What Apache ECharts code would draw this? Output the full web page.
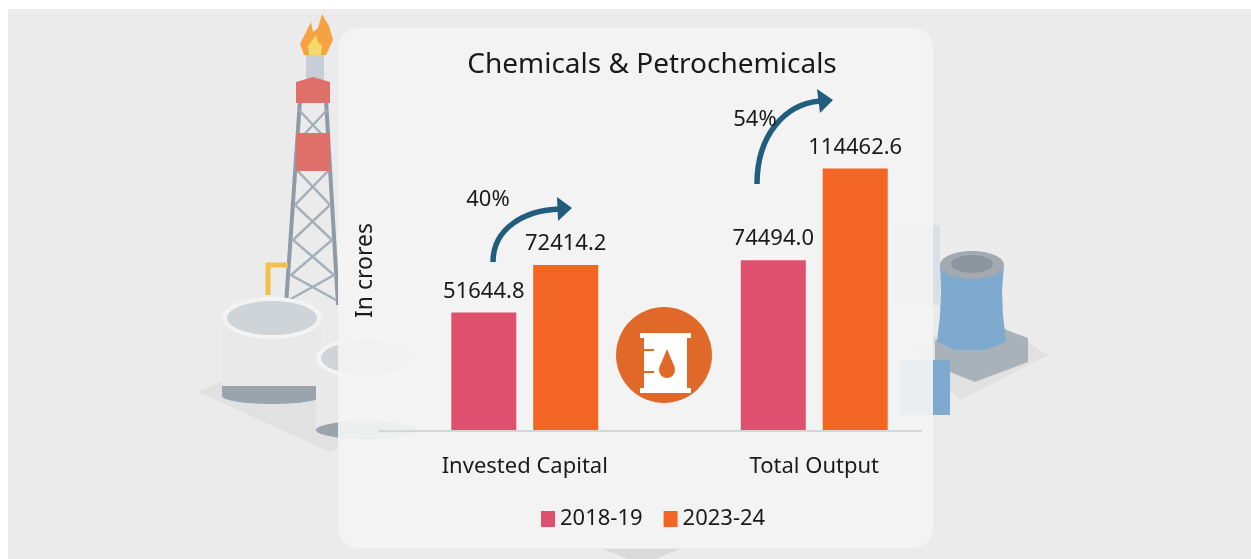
<!DOCTYPE html>
<html><head><meta charset="utf-8">
<script src="https://cdn.jsdelivr.net/npm/echarts@6/dist/echarts.min.js"></script>
<style>html,body{margin:0;padding:0;background:#fff}#c{width:1251px;height:559px}</style>
</head><body><div id="c"></div>
<script>
var categories = ['Invested Capital', 'Total Output'];
var series2018 = [51644.8, 74494.0];
var series2023 = [72414.2, 114462.6];
var seriesNames = ['2018-19', '2023-24'];
var growthLabels = ['40%', '54%'];

var FONT = 'Noto Sans';
var chart = echarts.init(document.getElementById('c'));

var B = -3;
var bg = [
  {type:'rect', z:B, shape:{x:8,y:9,width:1243,height:550}, style:{fill:'#ebebeb'}},
  {type:'polygon', z:B, shape:{points:[[198,392],[300,345],[430,400],[330,452]]}, style:{fill:'#e1e1e1'}},
  {type:'polyline', z:B, shape:{points:[[300,100],[286,305]]}, style:{stroke:'#8e9aa6',lineWidth:4}},
  {type:'polyline', z:B, shape:{points:[[326,100],[338,305]]}, style:{stroke:'#8e9aa6',lineWidth:4}},
  {type:'polyline', z:B, shape:{points:[[299,110],[327,140],[297,170],[330,205],[293,240],[334,275],[289,300]]}, style:{stroke:'#a5b0ba',lineWidth:2.5,fill:null}},
  {type:'polyline', z:B, shape:{points:[[327,110],[299,140],[329,170],[295,205],[332,240],[291,275],[336,300]]}, style:{stroke:'#a5b0ba',lineWidth:2.5,fill:null}},
  {type:'rect', z:B, shape:{x:306,y:54,width:18,height:28}, style:{fill:'#c7ced5'}},
  {type:'polygon', z:B, shape:{points:[[296,82],[313,77],[330,82],[330,103],[296,103]]}, style:{fill:'#df7069'}},
  {type:'rect', z:B, shape:{x:296,y:133,width:34,height:38}, style:{fill:'#df7069'}},
  {type:'polygon', z:B, shape:{points:[[304,55],[300,44],[306,32],[311,22],[313,32],[318,28],[322,14],[329,26],[333,40],[326,55]]}, style:{fill:'#f4a340'}},
  {type:'polygon', z:B, shape:{points:[[309,55],[308,46],[313,39],[316,35],[318,42],[322,46],[321,55]]}, style:{fill:'#f3d96a'}},
  {type:'polyline', z:B, shape:{points:[[268,295],[268,265],[288,265]]}, style:{stroke:'#f0c14b',lineWidth:5,fill:null}},
  {type:'rect', z:B, shape:{x:222,y:318,width:100,height:80}, style:{fill:'#e9e9e9'}},
  {type:'rect', z:B, shape:{x:222,y:386,width:100,height:10}, style:{fill:'#9aa4ad'}},
  {type:'ellipse', z:B, shape:{cx:272,cy:396,rx:50,ry:8}, style:{fill:'#9aa4ad'}},
  {type:'ellipse', z:B, shape:{cx:272,cy:318,rx:50,ry:21}, style:{fill:'#f3f3f3'}},
  {type:'ellipse', z:B, shape:{cx:272,cy:318,rx:45,ry:17}, style:{fill:'#cfd4d8'}},
  {type:'rect', z:B, shape:{x:316,y:358,width:100,height:72}, style:{fill:'#e9e9e9'}},
  {type:'ellipse', z:B, shape:{cx:366,cy:430,rx:50,ry:9}, style:{fill:'#9aa4ad'}},
  {type:'ellipse', z:B, shape:{cx:366,cy:358,rx:50,ry:21}, style:{fill:'#f3f3f3'}},
  {type:'ellipse', z:B, shape:{cx:366,cy:358,rx:45,ry:17}, style:{fill:'#cfd4d8'}},
  {type:'polygon', z:B, shape:{points:[[905,345],[990,318],[1048,355],[960,400]]}, style:{fill:'#e1e1e1'}},
  {type:'polygon', z:B, shape:{points:[[935,340],[990,324],[1028,338],[1028,362],[975,382],[935,366]]}, style:{fill:'#a9b1b9'}},
  {type:'polygon', z:B, shape:{points:[[940,265],[1004,265],[1002,290],[1003,315],[1006,342],[985,350],[955,350],[937,342],[940,315],[941,290]]}, style:{fill:'#7eaad0'}},
  {type:'ellipse', z:B, shape:{cx:972,cy:265,rx:32,ry:14}, style:{fill:'#a3aab2'}},
  {type:'ellipse', z:B, shape:{cx:972,cy:264,rx:21,ry:9}, style:{fill:'#8d959e'}},
  {type:'rect', z:B, shape:{x:900,y:360,width:50,height:55}, style:{fill:'#7eaad0'}},
  {type:'rect', z:B, shape:{x:885,y:225,width:55,height:80}, style:{fill:'#d9dfe4'}},
  {type:'rect', z:-2, shape:{x:338,y:28,width:595,height:520,r:20}, style:{fill:'rgba(243,243,243,0.93)'}},
  {type:'polygon', z:-2, shape:{points:[[603,549],[680,549],[655,559],[628,559]]}, style:{fill:'#dadada'}}
];

var fg = [
  {type:'line', z:5, shape:{x1:379,y1:431,x2:922,y2:431}, style:{stroke:'#d6d6d6',lineWidth:2}},
  {type:'circle', z:5, shape:{cx:664,cy:355,r:48}, style:{fill:'#e0692a'}},
  {type:'rect', z:6, shape:{x:640,y:333,width:51,height:5}, style:{fill:'#ffffff'}},
  {type:'rect', z:6, shape:{x:640,y:388,width:51,height:5}, style:{fill:'#ffffff'}},
  {type:'rect', z:6, shape:{x:644,y:337,width:43,height:52}, style:{fill:'#ffffff'}},
  {type:'rect', z:7, shape:{x:644,y:349,width:10,height:2}, style:{fill:'#e0692a'}},
  {type:'rect', z:7, shape:{x:644,y:371,width:10,height:2}, style:{fill:'#e0692a'}},
  {type:'circle', z:7, shape:{cx:667,cy:370,r:8}, style:{fill:'#e0692a'}},
  {type:'polygon', z:7, shape:{points:[[667,349],[659.5,367],[674.5,367]]}, style:{fill:'#e0692a'}},
  {type:'bezierCurve', z:8, shape:{x1:493,y1:262,cpx1:493,cpy1:228,cpx2:525,cpy2:210,x2:560,y2:209}, style:{stroke:'#215e7d',lineWidth:5.5,fill:null}},
  {type:'polygon', z:8, shape:{points:[[557,197],[572,208],[558,221]]}, style:{fill:'#215e7d'}},
  {type:'bezierCurve', z:8, shape:{x1:757,y1:184,cpx1:757,cpy1:135,cpx2:785,cpy2:104,x2:820,y2:101}, style:{stroke:'#215e7d',lineWidth:5.5,fill:null}},
  {type:'polygon', z:8, shape:{points:[[817,89],[833,100],[820,113]]}, style:{fill:'#215e7d'}},
  {type:'text', z:8, style:{x:488,y:200,text:growthLabels[0],fill:'#1a1a1a',font:'22px "Noto Sans"',align:'center',verticalAlign:'middle'}},
  {type:'text', z:8, style:{x:755,y:120,text:growthLabels[1],fill:'#1a1a1a',font:'22px "Noto Sans"',align:'center',verticalAlign:'middle'}}
];

var labelCfg = {show:true, position:'top', distance:10, fontSize:22, fontFamily:FONT, color:'#1a1a1a',
  formatter:function(p){return p.value.toFixed(1);}};

chart.setOption({
  backgroundColor:'#ffffff',
  animation:false,
  textStyle:{fontFamily:FONT},
  title:{text:'Chemicals & Petrochemicals', left:647, top:46, textAlign:'center',
    textStyle:{fontSize:28, fontWeight:'normal', color:'#1a1a1a', fontFamily:FONT}},
  legend:{data:seriesNames, left:536, top:503, itemWidth:14, itemHeight:16, itemGap:21,
    icon:'rect', textStyle:{fontSize:22, color:'#1a1a1a', fontFamily:FONT}},
  grid:{left:380, right:292, top:110, bottom:128},
  xAxis:{type:'category', data:categories, axisLine:{show:false}, axisTick:{show:false},
    axisLabel:{fontSize:22, color:'#1a1a1a', margin:25, fontFamily:FONT}},
  yAxis:{type:'value', min:0, max:140000, splitLine:{show:false}, axisLabel:{show:false},
    axisLine:{show:false}, axisTick:{show:false},
    name:'In crores', nameLocation:'middle', nameRotate:90, nameGap:3,
    nameTextStyle:{fontSize:23, color:'#1a1a1a', fontFamily:FONT}},
  graphic:{elements: bg.concat(fg)},
  series:[
    {name:seriesNames[0], type:'bar', data:series2018, barWidth:65, barGap:'26%', z:3,
      itemStyle:{color:'#de506e'}, label:labelCfg},
    {name:seriesNames[1], type:'bar', data:series2023, barWidth:65, barGap:'26%', z:3,
      itemStyle:{color:'#f26522'}, label:labelCfg}
  ]
});
</script></body></html>
